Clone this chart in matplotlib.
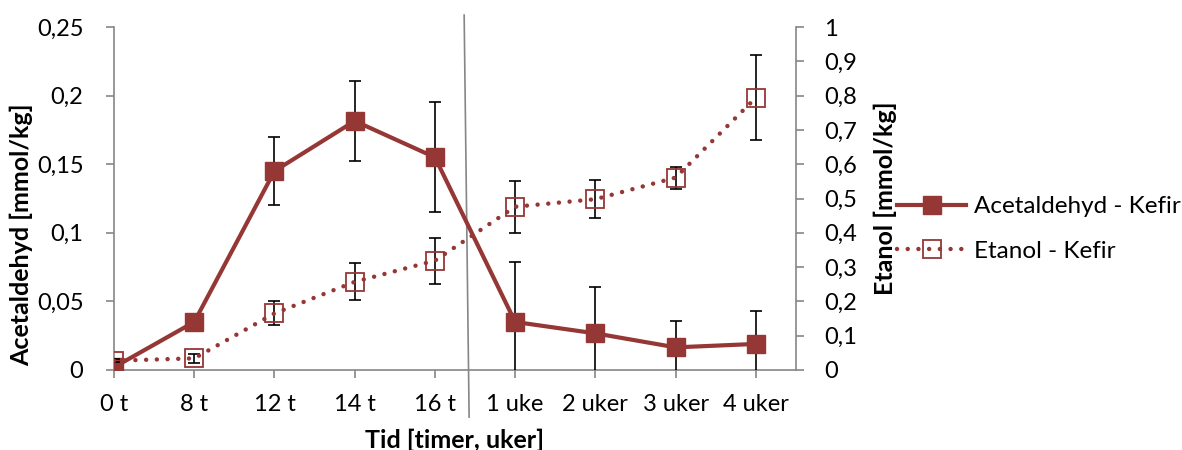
import matplotlib
matplotlib.use("Agg")
import matplotlib.pyplot as plt
from matplotlib.lines import Line2D
from matplotlib.ticker import FixedLocator, FuncFormatter

plt.rcParams['font.family'] = ['Lato', 'DejaVu Sans']

categories = ["0 t", "8 t", "12 t", "14 t", "16 t", "1 uke", "2 uker", "3 uker", "4 uker"]
acetaldehyd = [0.002, 0.035, 0.145, 0.1815, 0.155, 0.035, 0.0267, 0.0165, 0.019]
acetaldehyd_err = [0.002, 0.003, 0.025, 0.0295, 0.040, 0.0437, 0.034, 0.0194, 0.0238]
etanol = [0.027, 0.034, 0.165, 0.257, 0.319, 0.476, 0.498, 0.561, 0.794]
etanol_err = [0.005, 0.014, 0.035, 0.054, 0.067, 0.076, 0.056, 0.032, 0.123]

left_ticks = [0, 0.05, 0.1, 0.15, 0.2, 0.25]
right_ticks = [0, 0.1, 0.2, 0.3, 0.4, 0.5, 0.6, 0.7, 0.8, 0.9, 1.0]

RED = "#953735"
GREY = "#868686"
FS_TICK = 17
FS_LABEL = 18
FS_LEGEND = 17.5

def comma(v, _pos=None):
    s = f"{v:.2f}".rstrip("0").rstrip(".")
    return s.replace(".", ",")

fig = plt.figure(figsize=(11.82, 4.5), dpi=100)
ax = fig.add_axes([114 / 1182, 1 - 370 / 450, (796 - 114) / 1182, (370 - 27) / 450])
ax2 = ax.twinx()

x = list(range(len(categories)))

ax.errorbar(x, acetaldehyd, yerr=acetaldehyd_err, fmt="none", ecolor="black",
            elinewidth=1.2, capsize=4.5, capthick=1.2, zorder=3)
ax.plot(x, acetaldehyd, color=RED, lw=3.0, marker="s", markersize=13,
        markerfacecolor=RED, markeredgecolor=RED, zorder=4,
        label="Acetaldehyd - Kefir")

ax2.errorbar(x, etanol, yerr=etanol_err, fmt="none", ecolor="black",
             elinewidth=1.2, capsize=4.5, capthick=1.2, zorder=3)
ax2.plot(x, etanol, color=RED, lw=3.2, linestyle=(0, (0.01, 2.4)),
         dash_capstyle="round", solid_capstyle="round", zorder=4)
ax2.plot(x, etanol, linestyle="none", marker="s", markersize=13,
         markerfacecolor="none", markeredgecolor=RED, markeredgewidth=1.3, zorder=5)

ax.set_xlim(0, len(categories) - 0.5)
ax.set_ylim(0, 0.25)
ax2.set_ylim(0, 1)

ax.set_xticks(x)
ax.set_xticklabels(categories)
ax.yaxis.set_major_locator(FixedLocator(left_ticks))
ax.yaxis.set_major_formatter(FuncFormatter(comma))
ax2.yaxis.set_major_locator(FixedLocator(right_ticks))
ax2.yaxis.set_major_formatter(FuncFormatter(comma))

for a in (ax, ax2):
    a.patch.set_visible(False)
    a.spines["top"].set_visible(False)
    for s in a.spines.values():
        s.set_color(GREY)
        s.set_linewidth(1.2)
    a.tick_params(axis="both", colors="black", labelsize=FS_TICK, length=6, width=1.2,
                  direction="out", color=GREY)
ax.spines["right"].set_visible(False)
ax2.spines["left"].set_visible(False)
ax2.spines["bottom"].set_visible(False)
ax.tick_params(axis="y", pad=16)
ax.tick_params(axis="x", pad=11)
ax2.tick_params(axis="y", pad=14)

ax.set_ylabel("Acetaldehyd [mmol/kg]", fontsize=FS_LABEL, fontweight="bold")
ax.yaxis.set_label_coords(-0.119, 0.394)
ax2.set_ylabel("Etanol [mmol/kg]", fontsize=FS_LABEL, fontweight="bold", rotation=90, labelpad=12)
ax.set_xlabel("Tid [timer, uker]", fontsize=FS_LABEL, fontweight="bold", labelpad=10)

# break line separating hours from weeks
ax.add_line(Line2D([4.364, 4.426], [0.2587, -0.0343], color=GREY, lw=1.2,
                   clip_on=False, zorder=2))

handles = [
    Line2D([], [], color=RED, lw=3.0, marker="s", markersize=13,
           markerfacecolor=RED, markeredgecolor=RED),
    Line2D([], [], color=RED, lw=3.2, linestyle=(0, (0.01, 2.4)), dash_capstyle="round",
           marker="s", markersize=13, markerfacecolor="none",
           markeredgecolor=RED, markeredgewidth=1.3),
]
fig.legend(handles, ["Acetaldehyd - Kefir", "Etanol - Kefir"],
           loc="center left", bbox_to_anchor=(897 / 1182, 1 - 229 / 450),
           frameon=False, fontsize=FS_LEGEND, handlelength=2.85, handletextpad=0.33,
           labelspacing=0.95, borderpad=0, borderaxespad=0)

fig.savefig("out.png", dpi=100)
